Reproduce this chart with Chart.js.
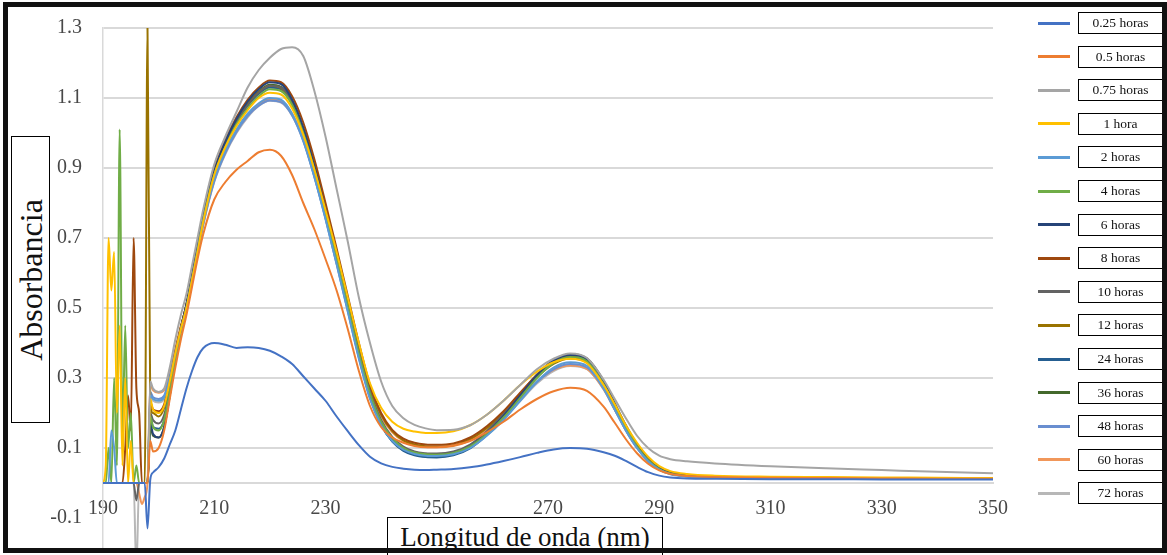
<!DOCTYPE html>
<html>
<head>
<meta charset="utf-8">
<script src="https://cdn.jsdelivr.net/npm/chart.js@4.4.1/dist/chart.umd.min.js"></script>
<style>
  html, body { margin: 0; padding: 0; background: #fff; overflow: hidden; }
  #wrap { position: relative; width: 1167px; height: 555px; overflow: hidden; font-family: "Liberation Serif", "Times New Roman", serif; color: #111; }
  #chart { position: absolute; left: 0; top: 0; }
  #frame { position: absolute; left: 3px; top: 2px; width: 1164px; height: 551px; border: 5px solid #111; box-sizing: border-box; z-index: 5; }
  .axis-title { position: absolute; background: #fff; border: 1.5px solid #000; box-sizing: border-box; z-index: 3; }
  #ytitle { left: 11px; top: 136px; width: 39px; height: 287px; }
  #ytitle span { position: absolute; left: 50%; top: 50%; transform: translate(-50%, -50%) rotate(-90deg); font-size: 32px; white-space: nowrap; }
  #xtitle { left: 387px; top: 517px; width: 276px; height: 40px; font-size: 27px; line-height: 38px; text-align: center; white-space: nowrap; }
  .leg-line { position: absolute; left: 1038px; width: 32px; height: 3px; }
  .leg-box { position: absolute; left: 1078px; width: 85px; height: 22px; border: 1.5px solid #000; box-sizing: border-box; font-size: 13.5px; line-height: 19px; text-align: center; white-space: pre; }
</style>
</head>
<body>
<div id="wrap">
  <canvas id="chart" width="1167" height="600"></canvas>
  <div id="ytitle" class="axis-title"><span>Absorbancia</span></div>
  <div id="xtitle" class="axis-title">Longitud de onda (nm)</div>
  <div id="legend"></div>
  <div id="frame"></div>
</div>
<script>
// wavelength (nm)
const wavelengths = [
  190, 190.5, 191, 191.5, 192, 192.5, 193, 193.5, 194, 194.5, 195, 195.5, 196, 196.5, 197, 197.5, 198, 198.5,
  199, 200, 201, 202, 203, 204, 205, 206, 207, 208,
  210, 212, 214, 216, 218, 220, 222, 224, 226, 228, 230, 232, 234, 236, 238, 240, 242, 244, 246, 248, 250,
  253, 256, 259, 262, 265, 268, 271, 274, 277, 280,
  282, 284, 286, 288, 290, 292,
  295, 300, 310, 320, 330, 340, 350
];

const yTicks = [-0.1, 0.1, 0.3, 0.5, 0.7, 0.9, 1.1, 1.3];

const seriesLabels = ['0.25 horas', '0.5 horas', '0.75 horas', '1 hora', '2 horas', '4 horas', '6 horas', '8 horas',
  '10 horas', '12 horas', '24 horas', '36 horas', '48 horas', '60 horas', '72 horas'];

const seriesColors = ['#4472C4', '#ED7D31', '#A5A5A5', '#FFC000', '#5B9BD5', '#70AD47', '#264478', '#9E480E',
  '#636363', '#997300', '#255E91', '#43682B', '#698ED0', '#F1975A', '#B7B7B7'];

const h025 = [
  0, 0, 0, 0, 0, 0, 0, 0, 0, 0, 0, 0, 0, 0, 0, 0, -0.13, 0.01,
  0.03, 0.045, 0.07, 0.11, 0.15, 0.21, 0.27, 0.32, 0.36, 0.385,
  0.40, 0.395, 0.386, 0.388, 0.386, 0.378, 0.362, 0.34, 0.305, 0.27, 0.235, 0.19, 0.148, 0.108, 0.075, 0.056, 0.046, 0.041, 0.038, 0.037, 0.038,
  0.04, 0.045, 0.053, 0.063, 0.074, 0.086, 0.096, 0.10, 0.098, 0.088,
  0.078, 0.063, 0.046, 0.031, 0.021, 0.016,
  0.013, 0.012, 0.011, 0.011, 0.01, 0.01, 0.01
];
const h05 = [
  0, 0, 0, 0, 0, 0, 0, 0, 0, 0, 0, 0, 0, 0, 0, 0, 0, 0.12,
  0.09, 0.10, 0.15, 0.24, 0.33, 0.41, 0.48, 0.56, 0.64, 0.71,
  0.81, 0.86, 0.895, 0.92, 0.945, 0.952, 0.935, 0.88, 0.80, 0.725, 0.64, 0.55, 0.44, 0.32, 0.22, 0.16, 0.13, 0.115, 0.106, 0.102, 0.102,
  0.107, 0.12, 0.145, 0.175, 0.21, 0.24, 0.262, 0.272, 0.263, 0.218,
  0.172, 0.125, 0.085, 0.055, 0.036, 0.026,
  0.02, 0.017, 0.015, 0.014, 0.013, 0.012, 0.012
];
const h075 = [
  0, 0, 0, 0, 0, 0, 0, 0, 0, 0, 0, 0, 0, 0, 0, 0, 0, 0.29,
  0.27, 0.26, 0.27, 0.33, 0.41, 0.48, 0.54, 0.62, 0.70, 0.78,
  0.91, 0.99, 1.06, 1.13, 1.18, 1.215, 1.24, 1.245, 1.22, 1.12, 0.99, 0.84, 0.69, 0.53, 0.40, 0.29, 0.22, 0.185, 0.166, 0.156, 0.151,
  0.152, 0.165, 0.195, 0.235, 0.28, 0.325, 0.355, 0.37, 0.357, 0.295,
  0.24, 0.185, 0.135, 0.10, 0.078, 0.068,
  0.062, 0.056, 0.048, 0.042, 0.037, 0.032, 0.028
];
const h1 = [
  0, 0.05, 0.70, 0.55, 0.66, 0.2, 0.45, 0.05, 0.3, 0, 0.12, 0, 0, 0, 0, 0, 0, 0.24,
  0.21, 0.20, 0.22, 0.29, 0.37, 0.44, 0.50, 0.58, 0.66, 0.745,
  0.88, 0.96, 1.02, 1.065, 1.10, 1.115, 1.11, 1.07, 0.995, 0.895, 0.78, 0.66, 0.53, 0.40, 0.285, 0.215, 0.175, 0.155, 0.147, 0.143, 0.143,
  0.148, 0.165, 0.195, 0.235, 0.28, 0.318, 0.345, 0.355, 0.342, 0.28,
  0.225, 0.165, 0.115, 0.075, 0.048, 0.034,
  0.026, 0.021, 0.018, 0.017, 0.016, 0.015, 0.014
];
const h2 = [
  0, 0, 0, 0.15, 0.10, 0, 0, 0, 0, 0, 0, 0, 0, 0, 0, 0, 0, 0.25,
  0.24, 0.235, 0.245, 0.30, 0.37, 0.44, 0.50, 0.58, 0.66, 0.745,
  0.87, 0.95, 1.01, 1.055, 1.085, 1.10, 1.095, 1.055, 0.98, 0.875, 0.755, 0.625, 0.49, 0.355, 0.24, 0.165, 0.12, 0.095, 0.083, 0.078, 0.077,
  0.082, 0.10, 0.135, 0.18, 0.235, 0.29, 0.33, 0.345, 0.335, 0.27,
  0.21, 0.15, 0.10, 0.062, 0.038, 0.025,
  0.018, 0.015, 0.014, 0.013, 0.013, 0.012, 0.012
];
const h4 = [
  0, 0, 0.1, 0, 0.3, 0.05, 1.01, 0.12, 0.45, 0.1, 0.2, 0, 0.05, 0, 0, 0, 0, 0.19,
  0.16, 0.15, 0.18, 0.26, 0.35, 0.43, 0.50, 0.58, 0.665, 0.75,
  0.88, 0.96, 1.025, 1.07, 1.105, 1.125, 1.12, 1.08, 1.0, 0.895, 0.77, 0.64, 0.505, 0.37, 0.255, 0.175, 0.128, 0.10, 0.087, 0.082, 0.081,
  0.086, 0.105, 0.14, 0.187, 0.243, 0.30, 0.343, 0.36, 0.348, 0.282,
  0.22, 0.158, 0.105, 0.065, 0.04, 0.027,
  0.02, 0.016, 0.014, 0.013, 0.013, 0.012, 0.012
];
const h6 = [
  0, 0, 0, 0, 0, 0, 0, 0, 0, 0, 0, 0, 0, 0, 0, 0, 0, 0.17,
  0.14, 0.13, 0.16, 0.25, 0.35, 0.44, 0.51, 0.59, 0.675, 0.76,
  0.89, 0.975, 1.04, 1.09, 1.125, 1.145, 1.14, 1.095, 1.015, 0.905, 0.78, 0.645, 0.505, 0.365, 0.25, 0.17, 0.123, 0.097, 0.085, 0.08, 0.079,
  0.085, 0.105, 0.142, 0.192, 0.25, 0.307, 0.35, 0.366, 0.354, 0.29,
  0.225, 0.162, 0.108, 0.067, 0.041, 0.028,
  0.021, 0.017, 0.015, 0.014, 0.013, 0.013, 0.012
];
const h8 = [
  0, 0, 0, 0, 0, 0, 0, 0, 0.1, 0.25, 0.15, 0.70, 0.27, 0.2, 0, 0, 0, 0.23,
  0.21, 0.205, 0.225, 0.295, 0.375, 0.445, 0.51, 0.59, 0.675, 0.76,
  0.895, 0.98, 1.045, 1.095, 1.13, 1.15, 1.145, 1.105, 1.03, 0.925, 0.80, 0.67, 0.535, 0.40, 0.28, 0.20, 0.152, 0.127, 0.115, 0.11, 0.109,
  0.113, 0.13, 0.162, 0.205, 0.258, 0.308, 0.345, 0.36, 0.348, 0.285,
  0.222, 0.16, 0.107, 0.066, 0.041, 0.028,
  0.021, 0.017, 0.015, 0.014, 0.013, 0.013, 0.012
];
const h10 = [
  0, 0, 0, 0, 0, 0, 0, 0, 0, 0, 0, 0, -0.05, 0, 0, 0, 0, 0.2,
  0.18, 0.17, 0.195, 0.27, 0.36, 0.44, 0.505, 0.585, 0.67, 0.755,
  0.885, 0.97, 1.035, 1.08, 1.115, 1.135, 1.13, 1.09, 1.01, 0.905, 0.78, 0.65, 0.515, 0.38, 0.262, 0.18, 0.132, 0.104, 0.09, 0.085, 0.084,
  0.09, 0.11, 0.148, 0.198, 0.255, 0.31, 0.352, 0.368, 0.356, 0.292,
  0.228, 0.165, 0.11, 0.069, 0.043, 0.03,
  0.023, 0.018, 0.016, 0.015, 0.014, 0.013, 0.013
];
const h12 = [
  0, 0, 0, 0, 0, 0, 0, 0, 0, 0, 0, 0, 0, 0, 0, 0, 1.30, 0.22,
  0.20, 0.19, 0.215, 0.285, 0.37, 0.445, 0.51, 0.59, 0.672, 0.757,
  0.89, 0.972, 1.035, 1.082, 1.117, 1.135, 1.128, 1.088, 1.012, 0.91, 0.79, 0.66, 0.525, 0.392, 0.275, 0.195, 0.148, 0.122, 0.11, 0.105, 0.104,
  0.108, 0.125, 0.157, 0.2, 0.252, 0.302, 0.34, 0.356, 0.345, 0.283,
  0.22, 0.158, 0.106, 0.066, 0.041, 0.028,
  0.021, 0.017, 0.015, 0.014, 0.013, 0.013, 0.012
];
const h24 = [
  0, 0, 0, 0, 0, 0, 0, 0, 0, 0, 0, 0, 0, 0, 0, 0, 0, 0.19,
  0.16, 0.155, 0.18, 0.26, 0.355, 0.44, 0.505, 0.585, 0.67, 0.755,
  0.885, 0.968, 1.032, 1.078, 1.112, 1.13, 1.125, 1.083, 1.005, 0.898, 0.772, 0.638, 0.5, 0.362, 0.246, 0.166, 0.118, 0.092, 0.079, 0.074, 0.073,
  0.079, 0.099, 0.137, 0.187, 0.245, 0.303, 0.347, 0.364, 0.352, 0.288,
  0.224, 0.161, 0.107, 0.066, 0.04, 0.027,
  0.02, 0.016, 0.014, 0.013, 0.013, 0.012, 0.012
];
const h36 = [
  0, 0, 0, 0, 0, 0, 0, 0, 0, 0, 0, 0, 0, 0, 0, 0, 0, 0.16,
  0.135, 0.13, 0.16, 0.25, 0.35, 0.44, 0.51, 0.59, 0.675, 0.76,
  0.89, 0.972, 1.036, 1.083, 1.118, 1.138, 1.132, 1.09, 1.012, 0.903, 0.777, 0.642, 0.503, 0.364, 0.248, 0.168, 0.12, 0.094, 0.081, 0.076, 0.075,
  0.081, 0.102, 0.14, 0.19, 0.248, 0.306, 0.35, 0.367, 0.355, 0.291,
  0.226, 0.163, 0.108, 0.067, 0.041, 0.028,
  0.021, 0.017, 0.015, 0.014, 0.013, 0.013, 0.012
];
const h48 = [
  0, 0, 0, 0, 0, 0, 0, 0, 0, 0, 0, 0, 0, 0, 0, 0, 0, 0.26,
  0.245, 0.24, 0.25, 0.305, 0.375, 0.443, 0.5, 0.578, 0.655, 0.738,
  0.862, 0.943, 1.003, 1.048, 1.078, 1.093, 1.088, 1.05, 0.977, 0.874, 0.755, 0.626, 0.492, 0.358, 0.243, 0.167, 0.121, 0.096, 0.083, 0.078, 0.077,
  0.083, 0.102, 0.137, 0.183, 0.236, 0.288, 0.325, 0.34, 0.33, 0.27,
  0.21, 0.15, 0.1, 0.062, 0.038, 0.026,
  0.019, 0.016, 0.014, 0.013, 0.013, 0.012, 0.012
];
const h60 = [
  0, 0, 0, 0, 0, 0, 0, 0, 0, 0, 0, 0, 0, -0.03, -0.06, -0.04, 0, 0.28,
  0.265, 0.258, 0.265, 0.315, 0.385, 0.45, 0.505, 0.58, 0.658, 0.74,
  0.865, 0.945, 1.005, 1.05, 1.082, 1.097, 1.092, 1.055, 0.985, 0.885, 0.768, 0.64, 0.508, 0.377, 0.265, 0.19, 0.145, 0.12, 0.108, 0.103, 0.102,
  0.106, 0.122, 0.153, 0.194, 0.243, 0.29, 0.323, 0.336, 0.326, 0.268,
  0.21, 0.152, 0.102, 0.064, 0.04, 0.027,
  0.02, 0.016, 0.014, 0.013, 0.013, 0.012, 0.012
];
const h72 = [
  0, 0, 0, 0, 0, 0, 0, 0, 0, 0, 0, 0, -0.25, 0, 0, 0, 0, 0.25,
  0.235, 0.23, 0.24, 0.3, 0.372, 0.44, 0.498, 0.575, 0.653, 0.735,
  0.86, 0.94, 1.0, 1.045, 1.077, 1.092, 1.087, 1.05, 0.978, 0.876, 0.758, 0.63, 0.497, 0.364, 0.25, 0.173, 0.127, 0.101, 0.088, 0.083, 0.082,
  0.087, 0.105, 0.139, 0.183, 0.234, 0.284, 0.32, 0.334, 0.325, 0.267,
  0.209, 0.15, 0.1, 0.062, 0.038, 0.026,
  0.019, 0.016, 0.014, 0.013, 0.013, 0.012, 0.012
];

const seriesData = [h025, h05, h075, h1, h2, h4, h6, h8, h10, h12, h24, h36, h48, h60, h72];

const xTickFont = { family: 'Liberation Serif', size: 20 };
// small lineHeight keeps the y labels from pushing the plot top down
const yTickFont = { family: 'Liberation Serif', size: 20, lineHeight: 0.5 };

const datasets = seriesData.map(function (values, i) {
    return {
        label: seriesLabels[i],
        data: values.map(function (v, j) { return { x: wavelengths[j], y: v }; }),
        borderColor: seriesColors[i],
        backgroundColor: seriesColors[i],
        borderWidth: 2,
        pointRadius: 0,
        cubicInterpolationMode: 'monotone',
        fill: false
    };
});

const spectra = new Chart(document.getElementById('chart'), {
    type: 'line',
    data: { datasets: datasets },
    options: {
        responsive: false,
        animation: false,
        layout: { padding: { top: 28, right: 174, bottom: 50.5, left: 0 } },
        plugins: {
            legend: { display: false },
            tooltip: { enabled: false }
        },
        scales: {
            x: {
                type: 'linear',
                min: 190,
                max: 350,
                position: { y: 0 },
                grid: { display: false, drawTicks: false },
                border: { display: true, color: '#d9d9d9', width: 2 },
                ticks: { stepSize: 20, padding: 14, color: '#484848', font: xTickFont, maxRotation: 0, autoSkip: false }
            },
            y: {
                min: -0.19,
                max: 1.3,
                afterBuildTicks: function (axis) {
                    axis.ticks = yTicks.map(function (v) { return { value: v }; });
                },
                afterFit: function (axis) { axis.width = 103; },
                grid: {
                    color: function (c) { return c.tick && c.tick.value < 0 ? 'rgba(0,0,0,0)' : '#d9d9d9'; },
                    lineWidth: 2,
                    drawTicks: false
                },
                border: { display: true, color: '#d9d9d9', width: 1.5 },
                ticks: {
                    padding: 21,
                    color: '#484848',
                    font: yTickFont,
                    callback: function (v) { return v.toFixed(1); }
                }
            }
        }
    }
});

// legend boxes like the original picture
const legend = document.getElementById('legend');
seriesLabels.forEach(function (name, i) {
    const top = 12 + i * 33.6;
    const line = document.createElement('div');
    line.className = 'leg-line';
    line.style.top = (top + 9.5) + 'px';
    line.style.background = seriesColors[i];
    legend.appendChild(line);

    const box = document.createElement('div');
    box.className = 'leg-box';
    box.style.top = top + 'px';
    box.textContent = name;
    legend.appendChild(box);
});
</script>
</body>
</html>
